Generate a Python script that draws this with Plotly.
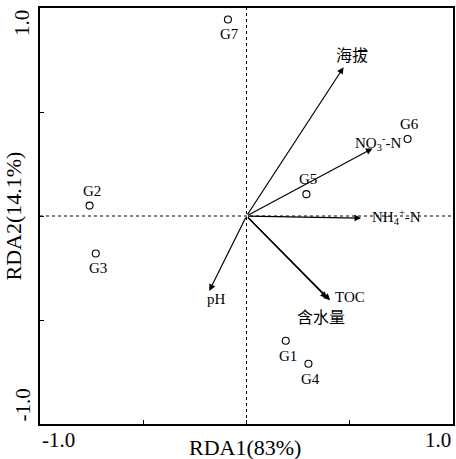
import plotly.graph_objects as go

# Sample sites (RDA scores)
site_names = ["G1", "G2", "G3", "G4", "G5", "G6", "G7"]
site_x = [0.19, -0.76, -0.73, 0.30, 0.29, 0.78, -0.09]
site_y = [-0.60, 0.05, -0.18, -0.71, 0.105, 0.37, 0.945]
site_label_side = ["below", "above", "below", "below", "above", "above", "below"]

# Environmental factor vectors
env_names = ["海拔", "NO<sub>3</sub><sup>-</sup>-N", "NH<sub>4</sub><sup>+</sup>-N", "TOC", "含水量", "pH"]
env_x = [0.47, 0.61, 0.555, 0.405, 0.39, -0.18]
env_y = [0.715, 0.325, -0.01, -0.405, -0.395, -0.36]

x_ticks = [-1.0, -0.5, 0.0, 0.5, 1.0]
y_ticks = [-1.0, -0.5, 0.0, 0.5, 1.0]
x_tick_text = {-1.0: "-1.0", 1.0: "1.0"}
y_tick_text = {-1.0: "-1.0", 1.0: "1.0"}
x_title = "RDA1(83%)"
y_title = "RDA2(14.1%)"

FONT = "Liberation Serif, Times New Roman, Noto Sans CJK SC, serif"
CJK = "Noto Sans CJK SC, Liberation Serif, serif"

fig = go.Figure()

fig.add_trace(go.Scatter(
    x=site_x, y=site_y, mode="markers",
    marker=dict(symbol="circle-open", size=7, color="black", line=dict(width=1.1, color="black")),
    showlegend=False, hoverinfo="skip",
))

annotations = []
shapes = []

# dotted zero lines
shapes.append(dict(type="line", xref="x", yref="y", x0=-1, x1=1, y0=0, y1=0,
                   line=dict(color="black", width=1, dash="dot")))
shapes.append(dict(type="line", xref="x", yref="y", x0=0, x1=0, y0=-1, y1=1,
                   line=dict(color="black", width=1, dash="dot")))

# site labels
for n, x, y, side in zip(site_names, site_x, site_y, site_label_side):
    annotations.append(dict(x=x, y=y, xref="x", yref="y", text=n, showarrow=False,
                            xshift=2, yshift=(15 if side == "above" else -15),
                            font=dict(family=FONT, size=15, color="black")))

# env arrows
label_shift = {
    "海拔": (8, 13),
    "NO<sub>3</sub><sup>-</sup>-N": (6, 5),
    "NH<sub>4</sub><sup>+</sup>-N": (35, 1),
    "TOC": (20, 3),
    "含水量": (-6, -18),
    "pH": (7, -8),
}
for n, x, y in zip(env_names, env_x, env_y):
    annotations.append(dict(x=x, y=y, ax=0, ay=0, xref="x", yref="y", axref="x", ayref="y",
                            text="", showarrow=True, arrowhead=2, arrowsize=1.1, arrowwidth=1.2,
                            arrowcolor="black", standoff=0, startstandoff=0))
    dx, dy = label_shift[n]
    fam = CJK if n in ("海拔", "含水量") else FONT
    annotations.append(dict(x=x, y=y, xref="x", yref="y", text=n, showarrow=False,
                            xshift=dx, yshift=dy,
                            font=dict(family=fam, size=15 if fam == FONT else 16, color="black")))

# tick labels
for v, t in x_tick_text.items():
    annotations.append(dict(x=v, y=0, xref="x", yref="paper", text=t, showarrow=False,
                            xanchor="left" if v < 0 else "right", yanchor="top", yshift=-2,
                            font=dict(family=FONT, size=21, color="black")))
for v, t in y_tick_text.items():
    annotations.append(dict(x=0, y=v, xref="paper", yref="y", text=t, showarrow=False,
                            textangle=-90, xanchor="right", xshift=-4,
                            yanchor="bottom" if v < 0 else "top",
                            font=dict(family=FONT, size=21, color="black")))

# axis titles
annotations.append(dict(x=0.5, y=0, xref="paper", yref="paper", text=x_title, showarrow=False,
                        yanchor="top", yshift=-9, xshift=-2,
                        font=dict(family=FONT, size=22, color="black")))
annotations.append(dict(x=0, y=0.5, xref="paper", yref="paper", text=y_title, showarrow=False,
                        textangle=-90, xanchor="right", xshift=-13,
                        font=dict(family=FONT, size=22, color="black")))

axis_common = dict(showgrid=False, zeroline=False, showline=True, linecolor="black", linewidth=1.5,
                   mirror=True, ticks="inside", ticklen=4, tickwidth=1.2, tickcolor="black",
                   showticklabels=False)

fig.update_layout(
    width=456, height=459,
    margin=dict(l=40, r=1, t=8, b=35),
    plot_bgcolor="white", paper_bgcolor="white",
    xaxis=dict(range=[-1, 1], tickvals=x_ticks, **axis_common),
    yaxis=dict(range=[-1, 1], tickvals=y_ticks, **axis_common),
    shapes=shapes, annotations=annotations, showlegend=False,
)

fig.write_html("out.html", config={"displayModeBar": False},
               post_script="document.body.style.margin='0';document.body.style.overflow='hidden';")
